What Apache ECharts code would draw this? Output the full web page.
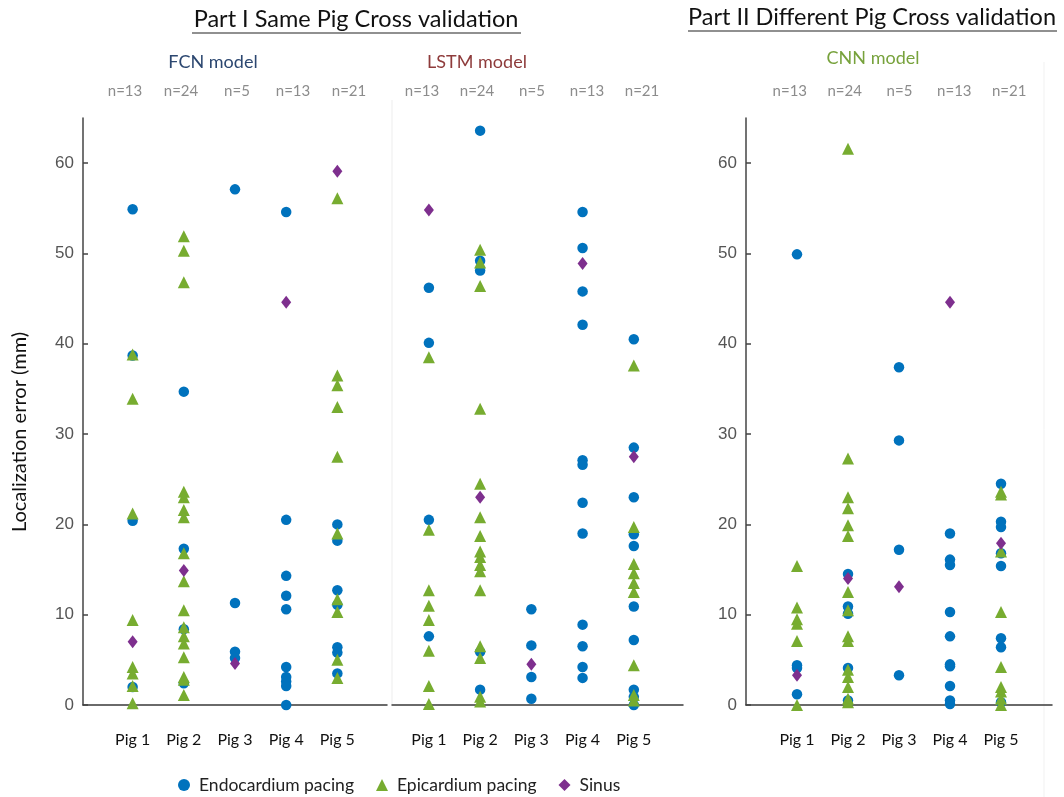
<!DOCTYPE html>
<html><head><meta charset="utf-8">
<script src="https://cdn.jsdelivr.net/npm/echarts@6/dist/echarts.min.js"></script>
<style>html,body{margin:0;padding:0;background:#fff}#c{width:1064px;height:797px}</style>
</head><body><div id="c"></div><script>
// ---------- data ----------
const pigLabels = ['Pig 1', 'Pig 2', 'Pig 3', 'Pig 4', 'Pig 5'];
const pigPos = [1, 2, 3, 4, 5];
const yTicks = [0, 10, 20, 30, 40, 50, 60];
const seriesNames = ['Endocardium pacing', 'Epicardium pacing', 'Sinus'];
const modelNames = ['FCN model', 'LSTM model', 'CNN model'];
const partTitles = ['Part I Same Pig Cross validation', 'Part II Different Pig Cross validation'];
const yTitle = 'Localization error (mm)';
const nFCN = ['n=13', 'n=24', 'n=5', 'n=13', 'n=21'];
const nLSTM = ['n=13', 'n=24', 'n=5', 'n=13', 'n=21'];
const nCNN = ['n=13', 'n=24', 'n=5', 'n=13', 'n=21'];

// values per pig (Pig 1 .. Pig 5)
const fcnEndo = [
  [54.9, 38.7, 20.4, 2.0],
  [34.7, 17.3, 8.4, 2.4],
  [57.1, 11.3, 5.9, 5.2],
  [54.6, 20.5, 14.3, 12.1, 10.6, 4.2, 3.1, 2.6, 2.1, 0.0],
  [20.0, 18.2, 12.7, 11.1, 6.4, 5.8, 3.5]
];
const fcnEpi = [
  [38.8, 33.9, 21.2, 9.4, 4.2, 3.5, 2.1, 0.2],
  [51.9, 50.3, 46.8, 23.6, 23.0, 21.6, 20.8, 16.8, 13.7, 10.5, 8.6, 7.6, 6.8, 5.3, 3.1, 2.8, 1.1],
  [],
  [],
  [56.1, 36.5, 35.4, 33.0, 27.5, 19.0, 11.7, 10.3, 5.0, 3.0]
];
const fcnSinus = [[7.0], [14.9], [4.6], [44.6], [59.1]];

const lstmEndo = [
  [46.2, 40.1, 20.5, 7.6],
  [63.6, 49.2, 48.1, 5.9, 1.7],
  [10.6, 6.6, 3.1, 0.7],
  [54.6, 50.6, 45.8, 42.1, 27.1, 26.6, 22.4, 19.0, 8.9, 6.5, 4.2, 3.0],
  [40.5, 28.5, 23.0, 18.9, 17.6, 10.9, 7.2, 1.7, 0.9, 0.0]
];
const lstmEpi = [
  [38.5, 19.4, 12.7, 11.0, 9.4, 6.0, 2.1, 0.1],
  [50.4, 49.0, 46.4, 32.8, 24.5, 20.8, 18.7, 17.0, 16.4, 15.5, 14.8, 12.7, 6.5, 5.2, 0.9, 0.4],
  [],
  [],
  [37.6, 19.7, 15.6, 14.6, 13.5, 12.5, 4.4, 1.1, 0.5]
];
const lstmSinus = [[54.8], [23.0], [4.5], [48.9], [27.5]];

const cnnEndo = [
  [49.9, 4.4, 4.1, 1.2],
  [14.5, 10.9, 10.1, 4.1, 0.5],
  [37.4, 29.3, 17.2, 3.3],
  [19.0, 16.1, 15.5, 10.3, 7.6, 4.5, 4.3, 2.1, 0.5, 0.1],
  [24.5, 20.3, 19.7, 16.8, 15.4, 7.4, 6.4, 0.3]
];
const cnnEpi = [
  [15.4, 10.8, 9.5, 9.0, 7.1, 0.0],
  [61.6, 27.3, 23.0, 21.8, 19.9, 18.7, 12.5, 10.5, 7.6, 7.1, 3.9, 3.1, 2.0, 0.7, 0.3],
  [],
  [],
  [23.6, 23.3, 17.0, 10.3, 4.2, 2.0, 1.5, 0.7, 0.0]
];
const cnnSinus = [[3.3], [14.0], [13.1], [44.6], [17.9]];

// ---------- chart ----------
const COLORS = ['#0072BD', '#77AC30', '#7E2F8E'];
const SYMBOLS = ['circle', 'triangle', 'diamond'];
const SIZES = [10.5, 12, [10, 13]];
const CAL = 'Lato, "Open Sans", sans-serif';

function pts(byPig) {
  const out = [];
  byPig.forEach((vals, i) => vals.forEach(v => out.push([pigPos[i], v])));
  return out;
}

const models = [
  [fcnEndo, fcnEpi, fcnSinus],
  [lstmEndo, lstmEpi, lstmSinus],
  [cnnEndo, cnnEpi, cnnSinus]
];
const nLabels = [nFCN, nLSTM, nCNN];

const series = [];
models.forEach((m, gi) => {
  m.forEach((byPig, si) => {
    series.push({
      name: seriesNames[si],
      type: 'scatter',
      xAxisIndex: gi,
      yAxisIndex: gi,
      symbol: SYMBOLS[si],
      symbolSize: SIZES[si],
      itemStyle: { color: COLORS[si], opacity: 1 },
      z: 2 + si,
      data: pts(byPig)
    });
  });
});

const grids = [
  { left: 83, top: 118, width: 304, height: 587 },
  { left: 392, top: 118, width: 291, height: 587 },
  { left: 746, top: 118, width: 306, height: 587 },
  { left: 69, top: 101, width: 336, height: 1 },
  { left: 367, top: 101, width: 330, height: 1 },
  { left: 735, top: 101, width: 336, height: 1 }
];
const xRanges = [[0.03, 5.97], [0.28, 5.96], [0, 6]];

const xAxes = [];
xRanges.forEach((r, gi) => {
  xAxes.push({
    gridIndex: gi, type: 'value', min: r[0], max: r[1],
    axisLine: { show: true, onZero: false, lineStyle: { color: '#3a3a3a', width: 1.5 } },
    axisTick: { show: false },
    splitLine: { show: false },
    axisLabel: {
      customValues: pigPos,
      formatter: v => pigLabels[pigPos.indexOf(v)] || '',
      margin: 27, fontSize: 16, color: '#111', fontFamily: CAL
    }
  });
});
nLabels.forEach((arr, k) => {
  xAxes.push({
    gridIndex: 3 + k, type: 'value', min: 0, max: 6, position: 'top',
    axisLine: { show: false }, axisTick: { show: false }, splitLine: { show: false },
    axisLabel: {
      customValues: pigPos,
      formatter: v => arr[pigPos.indexOf(v)] || '',
      margin: 2, fontSize: 15, color: '#8c8c8c', fontFamily: CAL
    }
  });
});

function yVisible(gi) {
  return {
    gridIndex: gi, type: 'value', min: 0, max: 65,
    axisLine: { show: true, lineStyle: { color: '#444', width: 1.5 } },
    axisTick: { show: true, inside: true, length: 5, customValues: yTicks, lineStyle: { color: '#444', width: 1.5 } },
    splitLine: { show: false },
    axisLabel: { customValues: yTicks, margin: 9, fontSize: 17, color: '#555', fontFamily: '"Liberation Sans", Arial, sans-serif' }
  };
}
const yAxes = [
  yVisible(0),
  { gridIndex: 1, type: 'value', min: 0, max: 65, show: false },
  yVisible(2),
  { gridIndex: 3, type: 'value', min: 0, max: 1, show: false },
  { gridIndex: 4, type: 'value', min: 0, max: 1, show: false },
  { gridIndex: 5, type: 'value', min: 0, max: 1, show: false }
];

const graphic = [
  { type: 'line', shape: { x1: 392, y1: 100, x2: 392, y2: 704 }, style: { stroke: '#ededed', lineWidth: 1 }, z: -1 },
  { type: 'line', shape: { x1: 1044, y1: 62, x2: 1044, y2: 797 }, style: { stroke: '#f1f1f1', lineWidth: 1 }, z: -1 },
  { type: 'text', x: 356, y: 19, style: { text: partTitles[0], textAlign: 'center', textVerticalAlign: 'middle', font: '23.5px ' + CAL, fill: '#111' } },
  { type: 'line', shape: { x1: 192, y1: 33, x2: 521, y2: 33 }, style: { stroke: '#222', lineWidth: 1.2 } },
  { type: 'text', x: 872, y: 17, style: { text: partTitles[1], textAlign: 'center', textVerticalAlign: 'middle', font: '23.5px ' + CAL, fill: '#111' } },
  { type: 'line', shape: { x1: 688, y1: 31, x2: 1057, y2: 31 }, style: { stroke: '#222', lineWidth: 1.2 } },
  { type: 'text', x: 213, y: 62, style: { text: modelNames[0], textAlign: 'center', textVerticalAlign: 'middle', font: '18px ' + CAL, fill: '#2C4770' } },
  { type: 'text', x: 477, y: 62, style: { text: modelNames[1], textAlign: 'center', textVerticalAlign: 'middle', font: '18px ' + CAL, fill: '#8E3B3B' } },
  { type: 'text', x: 873, y: 58, style: { text: modelNames[2], textAlign: 'center', textVerticalAlign: 'middle', font: '18px ' + CAL, fill: '#77A23C' } },
  { type: 'text', x: 20, y: 432, rotation: Math.PI / 2, style: { text: yTitle, textAlign: 'center', textVerticalAlign: 'middle', font: '20px ' + CAL, fill: '#111' } }
];

const chart = echarts.init(document.getElementById('c'), null, { renderer: 'canvas' });
chart.setOption({
  animation: false,
  backgroundColor: '#fff',
  grid: grids,
  xAxis: xAxes,
  yAxis: yAxes,
  legend: {
    data: seriesNames,
    left: 173, top: 771,
    itemWidth: 12, itemHeight: 12, itemGap: 22,
    textStyle: { fontSize: 17.5, color: '#222', fontFamily: CAL, padding: [0, 0, 0, 4] }
  },
  graphic: graphic,
  series: series
});
</script></body></html>
